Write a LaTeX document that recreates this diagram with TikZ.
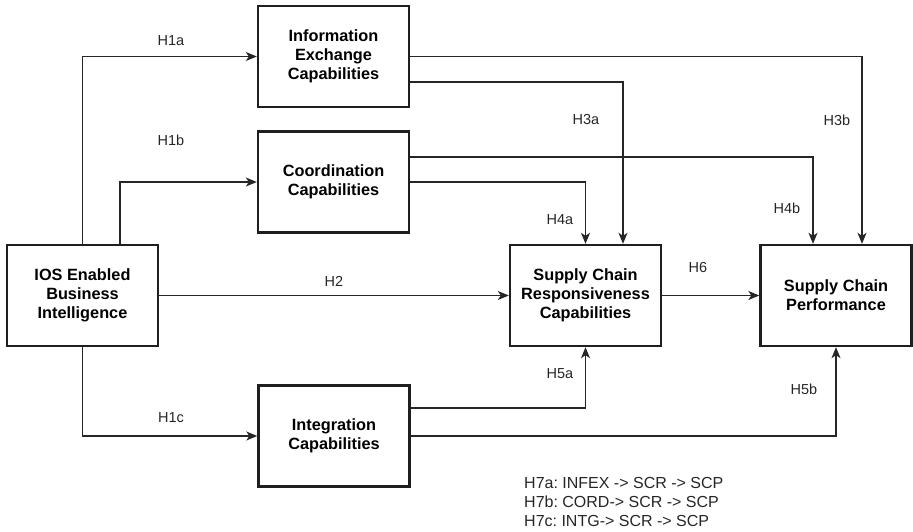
\documentclass[tikz,border=0pt]{standalone}
\usepackage{fontspec}
\setmainfont{Liberation Sans}
\usetikzlibrary{arrows.meta}
\frenchspacing
\begin{document}
\begin{tikzpicture}[x=1pt,y=-1pt,
  construct/.style={draw=black!88, line width=2.4pt, minimum width=151pt, minimum height=101pt,
    align=center, font=\fontsize{16.3}{19}\selectfont\bfseries, inner sep=0pt},
  link/.style={draw=black!85, line width=1.3pt, -{Stealth[length=11pt,width=9pt,inset=3pt]}},
  hyp/.style={font=\fontsize{14.5}{17}\selectfont, text=black!85, inner sep=0pt}]
\useasboundingbox (0,0) rectangle (913,532);

% constructs
\node[construct] (ios)   at (82.5,295.5) {IOS Enabled\\Business\\Intelligence};
\node[construct] (info)  at (333.5,56.5) {Information\\Exchange\\Capabilities};
\node[construct] (coord) at (333.5,182)  {Coordination\\Capabilities};
\node[construct] (integ) at (334,436)    {Integration\\Capabilities};
\node[construct] (scr)   at (585.5,295.5) {Supply Chain\\Responsiveness\\Capabilities};
\node[construct] (scp)   at (836,295.5)  {Supply Chain\\Performance};

% paths from IOS enabled BI
\draw[link] (ios.north) |- (info.west);
\draw[link] ([xshift=37.5]ios.north) |- (coord.west);
\draw[link] (ios.south) |- (integ.west);
\draw[link] (ios.east) -- (scr.west);

% paths into responsiveness and performance (yshift is measured upwards)
\draw[link] (info.east) -| ([xshift=26]scp.north);
\draw[link] ([yshift=-25.5]info.east) -| ([xshift=37.5]scr.north);
\draw[link] ([yshift=25]coord.east) -| ([xshift=-23]scp.north);
\draw[link] (coord.east) -| (scr.north);
\draw[link] ([yshift=28]integ.east) -| (scr.south);
\draw[link] (integ.east) -| (scp.south);
\draw[link] (scr.east) -- (scp.west);

% hypothesis labels
\node[hyp] (h1a) at (171,41)  {H1a};
\node[hyp] (h1b) at (171,140) {H1b};
\node[hyp] (h1c) at (171,418) {H1c};
\node[hyp] (h2)  at (334,281) {H2};
\node[hyp] (h3a) at (586,120) {H3a};
\node[hyp] (h3b) at (837,120) {H3b};
\node[hyp] (h4a) at (560,220) {H4a};
\node[hyp] (h4b) at (787,208) {H4b};
\node[hyp] (h5a) at (560,374) {H5a};
\node[hyp] (h5b) at (804,389) {H5b};
\node[hyp] (h6)  at (698,268) {H6};

% mediation hypotheses
\node[hyp, anchor=north west, align=left, font=\fontsize{16}{19}\selectfont] (h7) at (524,477)
  {H7a: INFEX -> SCR -> SCP\\H7b: CORD-> SCR -> SCP\\H7c: INTG-> SCR -> SCP};
\end{tikzpicture}
\end{document}
